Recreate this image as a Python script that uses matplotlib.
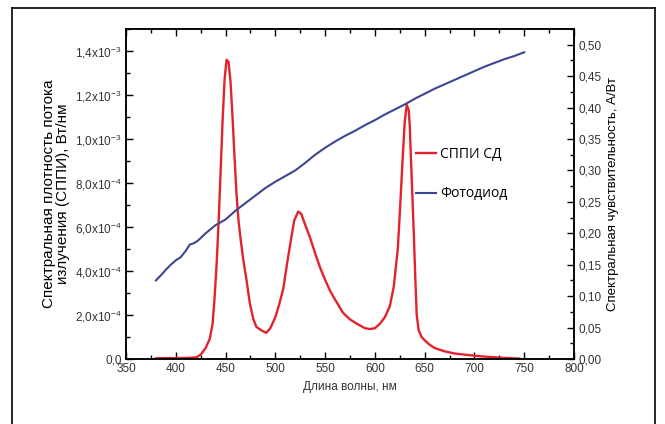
import numpy as np
import matplotlib
matplotlib.use("Agg")
from matplotlib import pyplot as plt
from matplotlib.ticker import MultipleLocator, FixedLocator
from matplotlib.lines import Line2D

plt.rcParams['font.family'] = ['Liberation Sans', 'DejaVu Sans']
plt.rcParams['mathtext.default'] = 'regular'

# СППИ СД (spectral flux density), W/nm, x1e-3
led_nm = [380, 390, 400, 410, 416, 421, 425, 430, 434, 437, 439, 441, 443, 445, 447,
          449, 451, 453, 455, 457, 459, 461, 463, 465, 467.5, 471, 474.5, 478, 481,
          486, 491, 495, 500, 504, 508, 512, 516, 519, 523, 526, 530, 535, 540, 545,
          550, 555, 560, 568, 575, 582, 590, 595, 600, 605, 610, 615, 619, 623, 625,
          628, 630, 632, 634, 635, 637, 639, 640.5, 642, 644, 647, 650, 655, 660, 670,
          680, 690, 700, 710, 720, 730, 740, 745]
led_val = [0.003, 0.004, 0.004, 0.005, 0.006, 0.008, 0.02, 0.05, 0.09, 0.16, 0.28, 0.43,
           0.62, 0.85, 1.08, 1.27, 1.36, 1.35, 1.26, 1.10, 0.92, 0.75, 0.63, 0.55, 0.46,
           0.36, 0.25, 0.18, 0.146, 0.13, 0.119, 0.14, 0.19, 0.25, 0.32, 0.44, 0.55,
           0.63, 0.67, 0.66, 0.61, 0.55, 0.48, 0.415, 0.36, 0.31, 0.27, 0.21, 0.18,
           0.16, 0.14, 0.136, 0.14, 0.16, 0.19, 0.24, 0.33, 0.50, 0.66, 0.92, 1.08,
           1.155, 1.13, 1.06, 0.82, 0.58, 0.38, 0.20, 0.13, 0.10, 0.085, 0.065, 0.05,
           0.035, 0.025, 0.02, 0.015, 0.011, 0.008, 0.005, 0.003, 0.002]

# Фотодиод (spectral sensitivity), A/W
pd_nm = [380, 385, 390, 395, 400, 405, 410, 414, 418, 422, 430, 440, 450, 460, 470,
         480, 490, 500, 510, 520, 530, 540, 550, 560, 570, 580, 590, 600, 610, 620,
         630, 640, 650, 660, 670, 680, 690, 700, 710, 720, 730, 740, 750]
pd_val = [0.125, 0.133, 0.142, 0.150, 0.157, 0.162, 0.172, 0.182, 0.184, 0.188, 0.200,
          0.213, 0.222, 0.236, 0.248, 0.260, 0.272, 0.282, 0.291, 0.300, 0.312, 0.325,
          0.336, 0.346, 0.355, 0.363, 0.372, 0.380, 0.389, 0.397, 0.405, 0.414, 0.422,
          0.430, 0.437, 0.444, 0.451, 0.458, 0.465, 0.471, 0.477, 0.482, 0.488]

left_ticks = [0.0, 0.2e-3, 0.4e-3, 0.6e-3, 0.8e-3, 1.0e-3, 1.2e-3, 1.4e-3]
left_labels = ['0,0', '2,0x10$^{-4}$', '4,0x10$^{-4}$', '6,0x10$^{-4}$', '8,0x10$^{-4}$',
               '1,0x10$^{-3}$', '1,2x10$^{-3}$', '1,4x10$^{-3}$']
right_ticks = [0.0, 0.05, 0.10, 0.15, 0.20, 0.25, 0.30, 0.35, 0.40, 0.45, 0.50]
right_labels = ['0,00', '0,05', '0,10', '0,15', '0,20', '0,25', '0,30', '0,35',
                '0,40', '0,45', '0,50']

red = '#e3232b'
blue = '#3d4690'
tick_col = '#333333'

fig = plt.figure(figsize=(6.65, 4.24), dpi=100)
ax = fig.add_axes([126/665, 1-359/424, 448/665, 330/424])
ax2 = ax.twinx()

l1, = ax.plot(led_nm, np.array(led_val)*1e-3, color=red, lw=1.7, label='СППИ СД')
l2, = ax2.plot(pd_nm, pd_val, color=blue, lw=1.5, label='Фотодиод')

ax.set_xlim(350, 800)
ax.set_ylim(0, 1.5e-3)
ax2.set_ylim(0, 0.525)

ax.xaxis.set_major_locator(MultipleLocator(50))
ax.xaxis.set_minor_locator(MultipleLocator(25))
ax.yaxis.set_major_locator(FixedLocator(left_ticks))
ax.yaxis.set_minor_locator(MultipleLocator(0.1e-3))
ax.set_yticklabels(left_labels)
ax2.yaxis.set_major_locator(FixedLocator(right_ticks))
ax2.yaxis.set_minor_locator(MultipleLocator(0.025))
ax2.set_yticklabels(right_labels)

for a in (ax, ax2):
    a.tick_params(which='major', direction='in', length=5, width=1, labelsize=8.5,
                  labelcolor=tick_col, pad=3)
    a.tick_params(which='minor', direction='in', length=3, width=1)
    for s in a.spines.values():
        s.set_linewidth(1.1)
ax.tick_params(which='both', top=True)

ax.set_xlabel('Длина волны, нм', fontsize=8.5, color=tick_col, labelpad=4)
ax.set_ylabel('Спектральная плотность потока\nизлучения (СППИ), Вт/нм', fontsize=11,
              linespacing=1.0, labelpad=4)
ax2.set_ylabel('Спектральная чувствительность, А/Вт', fontsize=9.5, labelpad=4)

leg = ax.legend(handles=[l1, l2], loc='upper left', bbox_to_anchor=(0.62, 0.68),
                frameon=False, handlelength=1.4, handletextpad=0.3,
                labelspacing=1.75, prop={'family': 'Open Sans', 'size': 10})

# outer frame: left, top and right sides only (bottom runs off the image)
x0, x1, y1 = 12/665, 655/665, 1-8/424
for xs, ys in [([x0, x0], [-0.1, y1]), ([x0, x1], [y1, y1]), ([x1, x1], [y1, -0.1])]:
    fig.add_artist(Line2D(xs, ys, transform=fig.transFigure, color='black', lw=1.2,
                          solid_capstyle='projecting', clip_on=False))

fig.savefig('out.png', dpi=100)
